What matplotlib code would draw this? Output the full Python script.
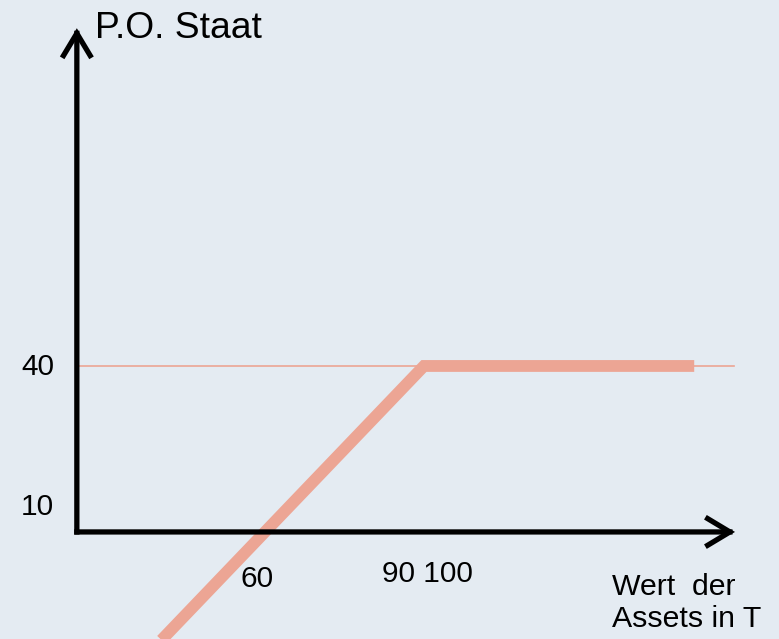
import matplotlib
matplotlib.use("Agg")
import matplotlib.pyplot as plt

# Data (payoff of the state vs. asset value)
asset_values = [37.5, 90, 141]
payoff_state = [-30, 40, 40]
cap_level = 40
x_tick_labels = [("60", 58.6), ("90 100", 90.7)]
y_tick_labels = [("40", 37.8), ("10", 4.1)]

BG = "#e4ebf2"
SALMON = "#eca594"
FONT = ["Liberation Sans", "DejaVu Sans"]

fig = plt.figure(figsize=(7.79, 6.39), dpi=100, facecolor=BG)
ax = fig.add_axes([0, 0, 1, 1])
ax.set_facecolor(BG)
ax.set_xlim(10, 157)
ax.set_ylim(-25.8, 128.2)
ax.axis("off")

x0, y0 = 24.5, 0.0
x_tip, y_tip = 148.7, 121.4

# thin reference line at cap level
ax.plot([x0, 148.5], [cap_level, cap_level], color=SALMON, lw=1.2, zorder=2)

# payoff line
ax.plot(asset_values, payoff_state, color=SALMON, lw=8.5,
        solid_capstyle="butt", solid_joinstyle="miter", zorder=3, clip_on=True)

# axes with arrow heads (drawn from the corner)
arrow_style = dict(arrowstyle="->,head_length=0.8,head_width=0.48",
                   lw=3.8, color="black", mutation_scale=20,
                   shrinkA=0, shrinkB=0, joinstyle="miter", capstyle="projecting")
ax.annotate("", xy=(x0, y_tip), xytext=(x0, y0), arrowprops=arrow_style, zorder=5)
ax.annotate("", xy=(x_tip, y0), xytext=(x0, y0), arrowprops=arrow_style, zorder=5)

# labels
ax.text(27.9, 119.0, "P.O. Staat", fontsize=26.8, family=FONT, va="baseline", ha="left")
for lab, yy in y_tick_labels:
    ax.text(17.1, yy, lab, fontsize=21.5, family=FONT, va="baseline", ha="center")
ax.text(x_tick_labels[0][1], -13.3, x_tick_labels[0][0], fontsize=21.5, family=FONT,
        va="baseline", ha="center")
ax.text(x_tick_labels[1][1], -12.0, x_tick_labels[1][0], fontsize=21.5, family=FONT,
        va="baseline", ha="center")
ax.text(125.5, -15.2, "Wert  der", fontsize=21.8, family=FONT, va="baseline", ha="left")
ax.text(125.5, -22.9, "Assets in T", fontsize=21.8, family=FONT, va="baseline", ha="left")

fig.savefig("out.png", dpi=100, facecolor=BG)
